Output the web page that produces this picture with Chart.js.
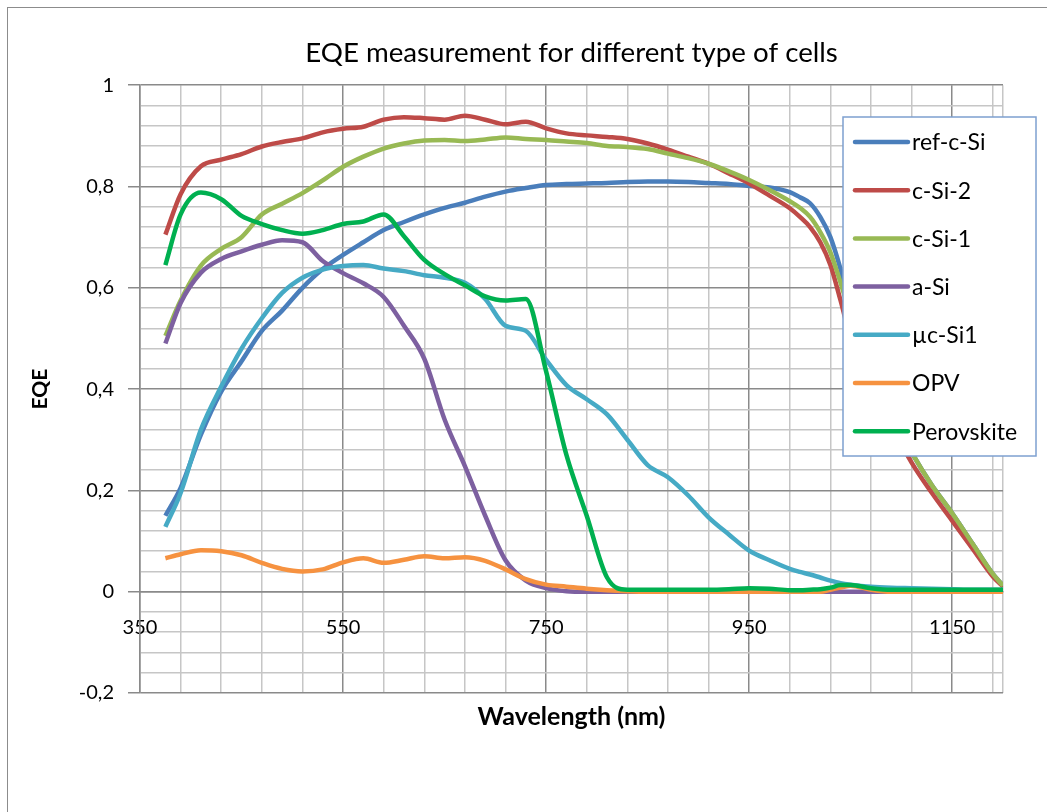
<!DOCTYPE html>
<html>
<head>
<meta charset="utf-8">
<script src="https://cdn.jsdelivr.net/npm/chart.js@4.4.1/dist/chart.umd.min.js"></script>
<style>
  html, body { margin: 0; padding: 0; background: #fff; overflow: hidden; }
  #frame { position: absolute; left: 7px; top: 7px; width: 1100px; height: 900px;
           border-left: 1.5px solid #8c8c8c; border-top: 1.5px solid #8c8c8c; }
  #myChart { position: absolute; left: 0; top: 0; }
</style>
</head>
<body>
<div id="frame"></div>
<canvas id="myChart" width="1047" height="812"></canvas>
<script>
// Wavelengths (nm), common to all series
const wavelengths = [375, 390, 410, 430, 450, 470, 490, 510, 530, 550, 570, 590, 610, 630, 650, 670, 690, 710, 730, 750,
  770, 790, 810, 830, 850, 870, 890, 910, 930, 950, 970, 990, 1000, 1010, 1020, 1030, 1040, 1050, 1070, 1090,
  1110, 1130, 1150, 1170, 1190, 1200];

// EQE values
const refCSi = [0.15, 0.205, 0.31, 0.395, 0.455, 0.515, 0.555, 0.60, 0.637, 0.665, 0.69, 0.714, 0.73, 0.745, 0.758, 0.768, 0.78, 0.79, 0.797, 0.803,
  0.805, 0.806, 0.807, 0.809, 0.81, 0.81, 0.809, 0.807, 0.805, 0.801, 0.798, 0.789, 0.779, 0.767, 0.74, 0.70, 0.637, 0.56, 0.44, 0.35,
  0.275, 0.21, 0.155, 0.095, 0.035, 0.012];
const cSi2 = [0.705, 0.785, 0.84, 0.853, 0.864, 0.879, 0.888, 0.895, 0.907, 0.914, 0.918, 0.932, 0.937, 0.935, 0.932, 0.94, 0.932, 0.923, 0.928, 0.915,
  0.905, 0.901, 0.898, 0.894, 0.885, 0.873, 0.859, 0.845, 0.826, 0.806, 0.782, 0.757, 0.74, 0.72, 0.69, 0.645, 0.575, 0.50, 0.41, 0.33,
  0.255, 0.195, 0.14, 0.085, 0.03, 0.01];
const cSi1 = [0.505, 0.575, 0.644, 0.677, 0.70, 0.745, 0.766, 0.787, 0.812, 0.839, 0.859, 0.875, 0.885, 0.891, 0.892, 0.89, 0.893, 0.897, 0.894, 0.892,
  0.889, 0.886, 0.88, 0.878, 0.874, 0.865, 0.856, 0.845, 0.83, 0.813, 0.793, 0.771, 0.758, 0.74, 0.71, 0.67, 0.61, 0.545, 0.44, 0.35,
  0.275, 0.21, 0.155, 0.095, 0.035, 0.012];
const aSi = [0.49, 0.57, 0.63, 0.657, 0.672, 0.685, 0.694, 0.69, 0.653, 0.629, 0.609, 0.582, 0.525, 0.46, 0.34, 0.248, 0.15, 0.062, 0.022, 0.007,
  0.001, 0, 0, 0, 0, 0, 0, 0, 0, 0, 0, 0, 0, 0, 0, 0, 0, 0, 0, 0,
  0, 0, 0, 0, 0, 0];
const ucSi1 = [0.128, 0.195, 0.32, 0.405, 0.48, 0.54, 0.59, 0.62, 0.636, 0.643, 0.645, 0.638, 0.633, 0.625, 0.62, 0.61, 0.578, 0.525, 0.515, 0.458,
  0.408, 0.38, 0.35, 0.30, 0.25, 0.226, 0.19, 0.147, 0.113, 0.081, 0.062, 0.045, 0.039, 0.034, 0.028, 0.022, 0.017, 0.014, 0.01, 0.008,
  0.007, 0.006, 0.005, 0.004, 0.004, 0.004];
const opv = [0.066, 0.074, 0.082, 0.08, 0.072, 0.057, 0.045, 0.04, 0.044, 0.058, 0.066, 0.057, 0.063, 0.07, 0.066, 0.068, 0.061, 0.044, 0.025, 0.014,
  0.01, 0.006, 0.003, 0.001, 0, 0, 0, 0, 0, 0, 0, 0, 0, 0, 0, 0.004, 0.008, 0.012, 0.004, 0,
  0, 0, 0, 0, 0, 0];
const perovskite = [0.645, 0.745, 0.788, 0.775, 0.742, 0.726, 0.714, 0.707, 0.714, 0.726, 0.731, 0.745, 0.702, 0.655, 0.627, 0.605, 0.583, 0.575, 0.578, 0.435,
  0.27, 0.15, 0.028, 0.004, 0.004, 0.004, 0.004, 0.004, 0.005, 0.007, 0.006, 0.003, 0.003, 0.004, 0.005, 0.008, 0.013, 0.013, 0.007, 0.004,
  0.004, 0.004, 0.004, 0.004, 0.004, 0.004];

const seriesNames = ['ref-c-Si', 'c-Si-2', 'c-Si-1', 'a-Si', 'µc-Si1', 'OPV', 'Perovskite'];
const seriesValues = [refCSi, cSi2, cSi1, aSi, ucSi1, opv, perovskite];
const seriesColors = ['#4A7EBB', '#BE4B48', '#98B954', '#7D60A0', '#46AAC5', '#F69240', '#00B050'];

// Axis ticks
const xMin = 350, xMax = 1200, xGridStep = 40;
const xTickLabels = [350, 550, 750, 950, 1150];
const yMin = -0.2, yMax = 1, yGridStep = 0.04;
const yTickValues = [-0.2, 0, 0.2, 0.4, 0.6, 0.8, 1];
const yTickLabels = ['-0,2', '0', '0,2', '0,4', '0,6', '0,8', '1'];

const xGrid = [];
for (let v = xMin; v < xMax; v += xGridStep) xGrid.push(v);
xGrid.push(xMax);
const yGrid = [];
for (let i = 0; i <= Math.round((yMax - yMin) / yGridStep); i++) yGrid.push(+(yMin + i * yGridStep).toFixed(2));

const minorColor = '#c6c6c6';
const majorColor = '#8a8a8a';
const isYMajor = v => yTickValues.some(t => Math.abs(t - v) < 1e-6);

Chart.defaults.font.family = 'Lato';
Chart.defaults.color = '#000';

// Legend drawn inside the plot, white box over the lines
const legendBox = {
  id: 'legendBox',
  afterDatasetsDraw(chart) {
    const ctx = chart.ctx;
    const bx = 843, by = 117, bw = 193, bh = 339;
    ctx.save();
    ctx.fillStyle = '#fff';
    ctx.fillRect(bx, by, bw, bh);
    ctx.strokeStyle = '#7EA0D0';
    ctx.lineWidth = 1.5;
    ctx.strokeRect(bx, by, bw, bh);
    ctx.font = '23px Lato';
    ctx.textBaseline = 'middle';
    chart.data.datasets.forEach((ds, i) => {
      const y = 142 + i * 48.2;
      ctx.strokeStyle = ds.borderColor;
      ctx.lineWidth = 4.5;
      ctx.lineCap = 'round';
      ctx.beginPath();
      ctx.moveTo(855, y);
      ctx.lineTo(908, y);
      ctx.stroke();
      ctx.fillStyle = '#000';
      ctx.fillText(ds.label, 912, y + 1);
    });
    ctx.restore();
  }
};

const canvas = document.getElementById('myChart');
const context = canvas.getContext('2d');

const config = {
  type: 'line',
  data: {
    datasets: seriesNames.map((name, i) => ({
      label: name,
      data: wavelengths.map((w, j) => ({ x: w, y: seriesValues[i][j] })),
      borderColor: seriesColors[i],
      backgroundColor: seriesColors[i],
      borderWidth: 4.5,
      pointRadius: 0,
      tension: 0.4,
      cubicInterpolationMode: 'monotone',
      order: seriesNames.length - i
    }))
  },
  options: {
    responsive: false,
    animation: false,
    devicePixelRatio: 1,
    layout: { padding: { left: 10, right: 44, top: 0, bottom: 0 } },
    plugins: {
      legend: { display: false },
      tooltip: { enabled: false },
      title: {
        display: true,
        fullSize: false,
        text: 'EQE measurement for different type of cells',
        font: { size: 27.7, weight: 'normal' },
        color: '#000',
        padding: { top: 36, bottom: 16 }
      }
    },
    scales: {
      x: {
        type: 'linear',
        min: xMin,
        max: xMax,
        position: { y: 0 },
        afterBuildTicks: scale => { scale.ticks = xGrid.map(v => ({ value: v })); },
        ticks: {
          autoSkip: false,
          maxRotation: 0,
          padding: 24,
          font: { size: 20 },
          callback: v => (xTickLabels.includes(v) ? String(v) : '')
        },
        grid: {
          drawTicks: false,
          lineWidth: 1.5,
          color: c => (c.tick && xTickLabels.includes(c.tick.value) ? majorColor : minorColor)
        },
        border: { display: true, color: majorColor, width: 1.5 }
      },
      x2: {
        type: 'linear',
        min: xMin,
        max: xMax,
        position: 'bottom',
        ticks: { display: false },
        grid: { display: false, drawTicks: false },
        border: { display: false },
        title: {
          display: true,
          text: 'Wavelength (nm)',
          font: { size: 25, weight: 'bold' },
          padding: { top: 9, bottom: 80 }
        }
      },
      y: {
        type: 'linear',
        min: yMin,
        max: yMax,
        afterBuildTicks: scale => { scale.ticks = yGrid.map(v => ({ value: v })); },
        afterFit: scale => { scale.width = 130; },
        ticks: {
          autoSkip: false,
          padding: 14,
          font: { size: 20 },
          callback: v => {
            const k = yTickValues.findIndex(t => Math.abs(t - v) < 1e-6);
            return k >= 0 ? yTickLabels[k] : '';
          }
        },
        grid: {
          lineWidth: 1.5,
          tickLength: 12,
          color: c => (c.tick && isYMajor(c.tick.value) ? majorColor : minorColor),
          tickColor: c => (c.tick && isYMajor(c.tick.value) ? majorColor : 'rgba(0,0,0,0)')
        },
        border: { display: true, color: majorColor, width: 1.5 },
        title: {
          display: true,
          text: 'EQE',
          font: { size: 21, weight: 'bold' },
          padding: { top: 18, bottom: 0 }
        }
      }
    }
  },
  plugins: [legendBox]
};

new Chart(context, config);
</script>
</body>
</html>
